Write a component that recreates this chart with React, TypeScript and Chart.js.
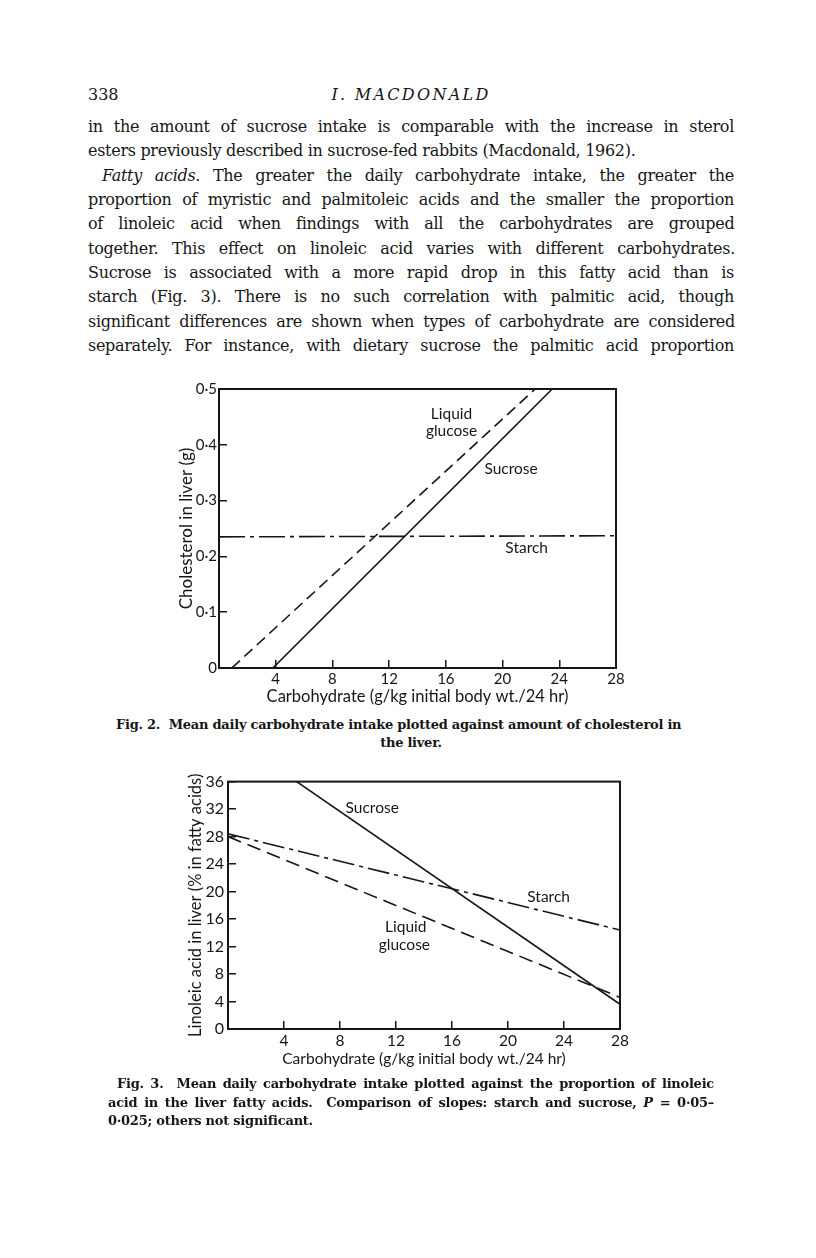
import React, { useEffect, useRef } from 'react';
import { Chart, registerables } from 'chart.js';

Chart.register(...registerables);

// ---------- Fig. 2 data (cholesterol in liver, g) ----------
const fig2SucroseX = [3.8, 23.5];
const fig2SucroseY = [0, 0.5];
const fig2GlucoseX = [0.9, 22.3];
const fig2GlucoseY = [0, 0.5];
const fig2StarchX = [0, 28];
const fig2StarchY = [0.235, 0.237];

// ---------- Fig. 3 data (linoleic acid, % in fatty acids) ----------
const fig3SucroseX = [4.9, 28];
const fig3SucroseY = [36, 3.6];
const fig3GlucoseX = [0, 28];
const fig3GlucoseY = [28.0, 4.6];
const fig3StarchX = [0, 28];
const fig3StarchY = [28.4, 14.4];

const xTitle = 'Carbohydrate (g/kg initial body wt./24 hr)';
const fig2YTitle = 'Cholesterol in liver (g)';
const fig3YTitle = 'Linoleic acid in liver (% in fatty acids)';

const fig2Labels = [
  { text: 'Liquid', x: 16.4, y: 0.456 },
  { text: 'glucose', x: 16.4, y: 0.424 },
  { text: 'Sucrose', x: 20.6, y: 0.356 },
  { text: 'Starch', x: 21.7, y: 0.215 },
];
const fig3Labels = [
  { text: 'Sucrose', x: 10.3, y: 32.1 },
  { text: 'Starch', x: 22.9, y: 19.2 },
  { text: 'Liquid', x: 12.7, y: 14.8 },
  { text: 'glucose', x: 12.6, y: 12.2 },
];

const INK = '#161616';
const SANS = 'Lato, "Noto Sans", sans-serif';
const SERIF = '"DejaVu Serif", serif';

type Seg = { t: string; i?: boolean };

const bodyLines: { segs: Seg[]; indent: number; justify: boolean }[] = [
  { segs: [{ t: 'in the amount of sucrose intake is comparable with the increase in sterol' }], indent: 0, justify: true },
  { segs: [{ t: 'esters previously described in sucrose-fed rabbits (Macdonald, 1962).' }], indent: 0, justify: false },
  { segs: [{ t: 'Fatty acids', i: true }, { t: '. The greater the daily carbohydrate intake, the greater the' }], indent: 14, justify: true },
  { segs: [{ t: 'proportion of myristic and palmitoleic acids and the smaller the proportion' }], indent: 0, justify: true },
  { segs: [{ t: 'of linoleic acid when findings with all the carbohydrates are grouped' }], indent: 0, justify: true },
  { segs: [{ t: 'together. This effect on linoleic acid varies with different carbohydrates.' }], indent: 0, justify: true },
  { segs: [{ t: 'Sucrose is associated with a more rapid drop in this fatty acid than is' }], indent: 0, justify: true },
  { segs: [{ t: 'starch (Fig. 3). There is no such correlation with palmitic acid, though' }], indent: 0, justify: true },
  { segs: [{ t: 'significant differences are shown when types of carbohydrate are considered' }], indent: 0, justify: true },
  { segs: [{ t: 'separately. For instance, with dietary sucrose the palmitic acid proportion' }], indent: 0, justify: true },
];

const fig2Caption = [
  'Fig. 2.  Mean daily carbohydrate intake plotted against amount of cholesterol in',
  'the liver.',
];
const fig3Caption = [
  'Fig. 3.  Mean daily carbohydrate intake plotted against the proportion of linoleic',
  'acid in the liver fatty acids.  Comparison of slopes: starch and sucrose, ',
  '0·025; others not significant.',
];

let mctx: CanvasRenderingContext2D | null = null;
function textWidth(segs: Seg[], size: number, family: string, weight: string) {
  if (!mctx) mctx = document.createElement('canvas').getContext('2d');
  let w = 0;
  for (const s of segs) {
    mctx!.font = `${s.i ? 'italic ' : ''}${weight} ${size}px ${family}`;
    w += mctx!.measureText(s.t).width;
  }
  return w;
}

function fitSize(items: { segs: Seg[]; width: number }[], family: string, weight: string, cap: number, ls: number) {
  let s = cap;
  for (const it of items) {
    const n = it.segs.map((x) => x.t).join('').length;
    const w = textWidth(it.segs, 100, family, weight);
    s = Math.min(s, (100 * (it.width - 3 - ls * n)) / w);
  }
  return s;
}

function TextLine(props: {
  left: number; width: number; baseline: number; segs: Seg[]; size: number;
  family: string; weight?: string; align?: 'justify' | 'left' | 'center'; letterSpacing?: number;
}) {
  const { left, width, baseline, segs, size, family } = props;
  const weight = props.weight || 'normal';
  const align = props.align || 'left';
  const ls = props.letterSpacing || 0;
  const chars = segs.map((s) => s.t).join('');
  const nat = textWidth(segs, size, family, weight) + ls * chars.length;
  const spaces = chars.split(' ').length - 1;
  let ws = 0;
  let x = left;
  if (align === 'justify' && spaces > 0) ws = (width - nat) / spaces;
  else if (align === 'center') x = left + (width - nat) / 2;
  return (
    <div
      style={{
        position: 'absolute', left: x, top: baseline - 0.846 * size, whiteSpace: 'pre',
        fontFamily: family, fontSize: size, fontWeight: weight as any, lineHeight: `${size}px`,
        wordSpacing: ws, letterSpacing: ls, color: INK,
      }}
    >
      {segs.map((s, k) => (s.i ? <i key={k}>{s.t}</i> : <span key={k}>{s.t}</span>))}
    </div>
  );
}

const framePlugin = {
  id: 'frame',
  afterDatasetsDraw(chart: any, _args: any, opts: any) {
    const { ctx, chartArea: a, scales } = chart;
    ctx.save();
    ctx.strokeStyle = INK;
    ctx.lineWidth = 2;
    ctx.strokeRect(a.left, a.top, a.right - a.left, a.bottom - a.top);
    ctx.fillStyle = INK;
    ctx.font = opts.font;
    ctx.textAlign = 'center';
    ctx.textBaseline = 'middle';
    for (const l of opts.labels || []) {
      ctx.fillText(l.text, scales.x.getPixelForValue(l.x), scales.y.getPixelForValue(l.y));
    }
    ctx.restore();
  },
};

const pts = (xs: number[], ys: number[]) => xs.map((x, i) => ({ x, y: ys[i] }));

function lineDs(label: string, xs: number[], ys: number[], dash: number[]) {
  return {
    label, data: pts(xs, ys), showLine: true, borderColor: INK, borderWidth: 1.6,
    pointRadius: 0, borderDash: dash, fill: false, tension: 0,
  };
}

function ChartCanvas(props: { left: number; top: number; width: number; height: number; make: () => any }) {
  const ref = useRef<HTMLCanvasElement>(null);
  useEffect(() => {
    const c = new Chart(ref.current as HTMLCanvasElement, props.make());
    return () => c.destroy();
  }, []);
  return (
    <canvas
      ref={ref}
      width={props.width}
      height={props.height}
      style={{ position: 'absolute', left: props.left, top: props.top, width: props.width, height: props.height }}
    />
  );
}

function fig2Config() {
  return {
    type: 'scatter',
    data: {
      datasets: [
        lineDs('Sucrose', fig2SucroseX, fig2SucroseY, []),
        lineDs('Liquid glucose', fig2GlucoseX, fig2GlucoseY, [11, 6]),
        lineDs('Starch', fig2StarchX, fig2StarchY, [26, 5, 4, 5]),
      ],
    },
    options: {
      animation: false, responsive: false, maintainAspectRatio: false,
      layout: { padding: { left: 0, right: 24, top: 17, bottom: 0 } },
      plugins: {
        legend: { display: false }, tooltip: { enabled: false },
        frame: { font: `15.5px ${SANS}`, labels: fig2Labels },
      },
      scales: {
        x: {
          type: 'linear', min: 0, max: 28,
          afterFit: (s: any) => { s.height = 42; },
          ticks: {
            stepSize: 4, autoSkip: false, maxRotation: 0, color: INK, padding: 10,
            font: { family: SANS, size: 15 },
            callback: (v: any) => (v === 0 ? '' : String(v)),
          },
          grid: { drawOnChartArea: false, tickLength: -8, color: INK, lineWidth: 1.5 },
          border: { display: false },
          title: { display: true, text: xTitle, color: INK, font: { family: SANS, size: 16.5 }, padding: { top: 0, bottom: 3 } },
        },
        y: {
          type: 'linear', min: 0, max: 0.5,
          afterFit: (s: any) => { s.width = 59; },
          ticks: {
            stepSize: 0.1, autoSkip: false, color: INK, padding: 10,
            font: { family: SANS, size: 15 },
            callback: (v: any) => (v === 0 ? '0' : Number(v).toFixed(1).replace('.', '·')),
          },
          grid: { drawOnChartArea: false, tickLength: -8, color: INK, lineWidth: 1.5 },
          border: { display: false },
          title: { display: true, text: fig2YTitle, color: INK, font: { family: SANS, size: 17 }, padding: { top: 16.5, bottom: 0 } },
        },
      },
    },
    plugins: [framePlugin],
  };
}

function fig3Config() {
  return {
    type: 'scatter',
    data: {
      datasets: [
        lineDs('Sucrose', fig3SucroseX, fig3SucroseY, []),
        lineDs('Liquid glucose', fig3GlucoseX, fig3GlucoseY, [14, 7]),
        lineDs('Starch', fig3StarchX, fig3StarchY, [22, 5, 4, 5]),
      ],
    },
    options: {
      animation: false, responsive: false, maintainAspectRatio: false,
      layout: { padding: { left: 0, right: 17, top: 16, bottom: 0 } },
      plugins: {
        legend: { display: false }, tooltip: { enabled: false },
        frame: { font: `15.5px ${SANS}`, labels: fig3Labels },
      },
      scales: {
        x: {
          type: 'linear', min: 0, max: 28,
          afterFit: (s: any) => { s.height = 51; },
          ticks: {
            stepSize: 4, autoSkip: false, maxRotation: 0, color: INK, padding: 11,
            font: { family: SANS, size: 15.5 },
            callback: (v: any) => (v === 0 ? '' : String(v)),
          },
          grid: { drawOnChartArea: false, tickLength: -8, color: INK, lineWidth: 1.5 },
          border: { display: false },
          title: { display: true, text: xTitle, color: INK, font: { family: SANS, size: 15.5 }, padding: { top: 0, bottom: 12 } },
        },
        y: {
          type: 'linear', min: 0, max: 36,
          afterFit: (s: any) => { s.width = 68; },
          ticks: {
            stepSize: 4, autoSkip: false, color: INK, padding: 12,
            font: { family: SANS, size: 16 },
            callback: (v: any) => String(v),
          },
          grid: { drawOnChartArea: false, tickLength: -8, color: INK, lineWidth: 1.5 },
          border: { display: false },
          title: { display: true, text: fig3YTitle, color: INK, font: { family: SANS, size: 16.5 }, padding: { top: 26, bottom: 0 } },
        },
      },
    },
    plugins: [framePlugin],
  };
}

export default function App() {
  const L = 88;
  const W = 646;
  const bodyLs = -0.3;
  const bodySize = fitSize(
    bodyLines.filter((b) => b.justify).map((b) => ({ segs: b.segs, width: W - b.indent })),
    SERIF, 'normal', 16, bodyLs,
  );
  const capL = 108;
  const capW = 606;
  const capLs = -0.25;
  const capSize = fitSize(
    [
      { segs: [{ t: fig3Caption[0] }], width: capW - 9 },
      { segs: [{ t: fig3Caption[1] + 'P = 0·05–' }], width: capW },
    ],
    SERIF, 'bold', 13, capLs,
  );

  return (
    <div style={{ position: 'absolute', left: 0, top: 0, width: 816, height: 1258, background: '#fff', overflow: 'hidden' }}>
      <TextLine left={L} width={60} baseline={101} segs={[{ t: '338' }]} size={bodySize} family={SERIF} />
      <TextLine left={L} width={W} baseline={101} segs={[{ t: 'I. MACDONALD', i: true }]} size={bodySize} family={SERIF} align="center" letterSpacing={2.3} />
      {bodyLines.map((b, i) => (
        <TextLine
          key={i}
          left={L + b.indent}
          width={W - b.indent}
          baseline={132.5 + i * 24.33}
          segs={b.segs}
          size={bodySize}
          family={SERIF}
          letterSpacing={bodyLs}
          align={b.justify ? 'justify' : 'left'}
        />
      ))}

      <ChartCanvas left={160} top={370} width={480} height={340} make={fig2Config} />
      <TextLine left={capL + 8} width={capW - 8} baseline={729} segs={[{ t: fig2Caption[0] }]} size={capSize} family={SERIF} weight="bold" letterSpacing={capLs} />
      <TextLine left={capL} width={capW} baseline={747} segs={[{ t: fig2Caption[1] }]} size={capSize} family={SERIF} weight="bold" letterSpacing={capLs} align="center" />

      <ChartCanvas left={160} top={760} width={480} height={320} make={fig3Config} />
      <TextLine left={capL + 9} width={capW - 9} baseline={1088} segs={[{ t: fig3Caption[0] }]} size={capSize} family={SERIF} weight="bold" letterSpacing={capLs} align="justify" />
      <TextLine
        left={capL}
        width={capW}
        baseline={1106.5}
        segs={[{ t: fig3Caption[1] }, { t: 'P', i: true }, { t: ' = 0·05–' }]}
        size={capSize}
        family={SERIF}
        weight="bold"
        letterSpacing={capLs}
        align="justify"
      />
      <TextLine left={capL} width={capW} baseline={1125} segs={[{ t: fig3Caption[2] }]} size={capSize} family={SERIF} weight="bold" letterSpacing={capLs} />
    </div>
  );
}
